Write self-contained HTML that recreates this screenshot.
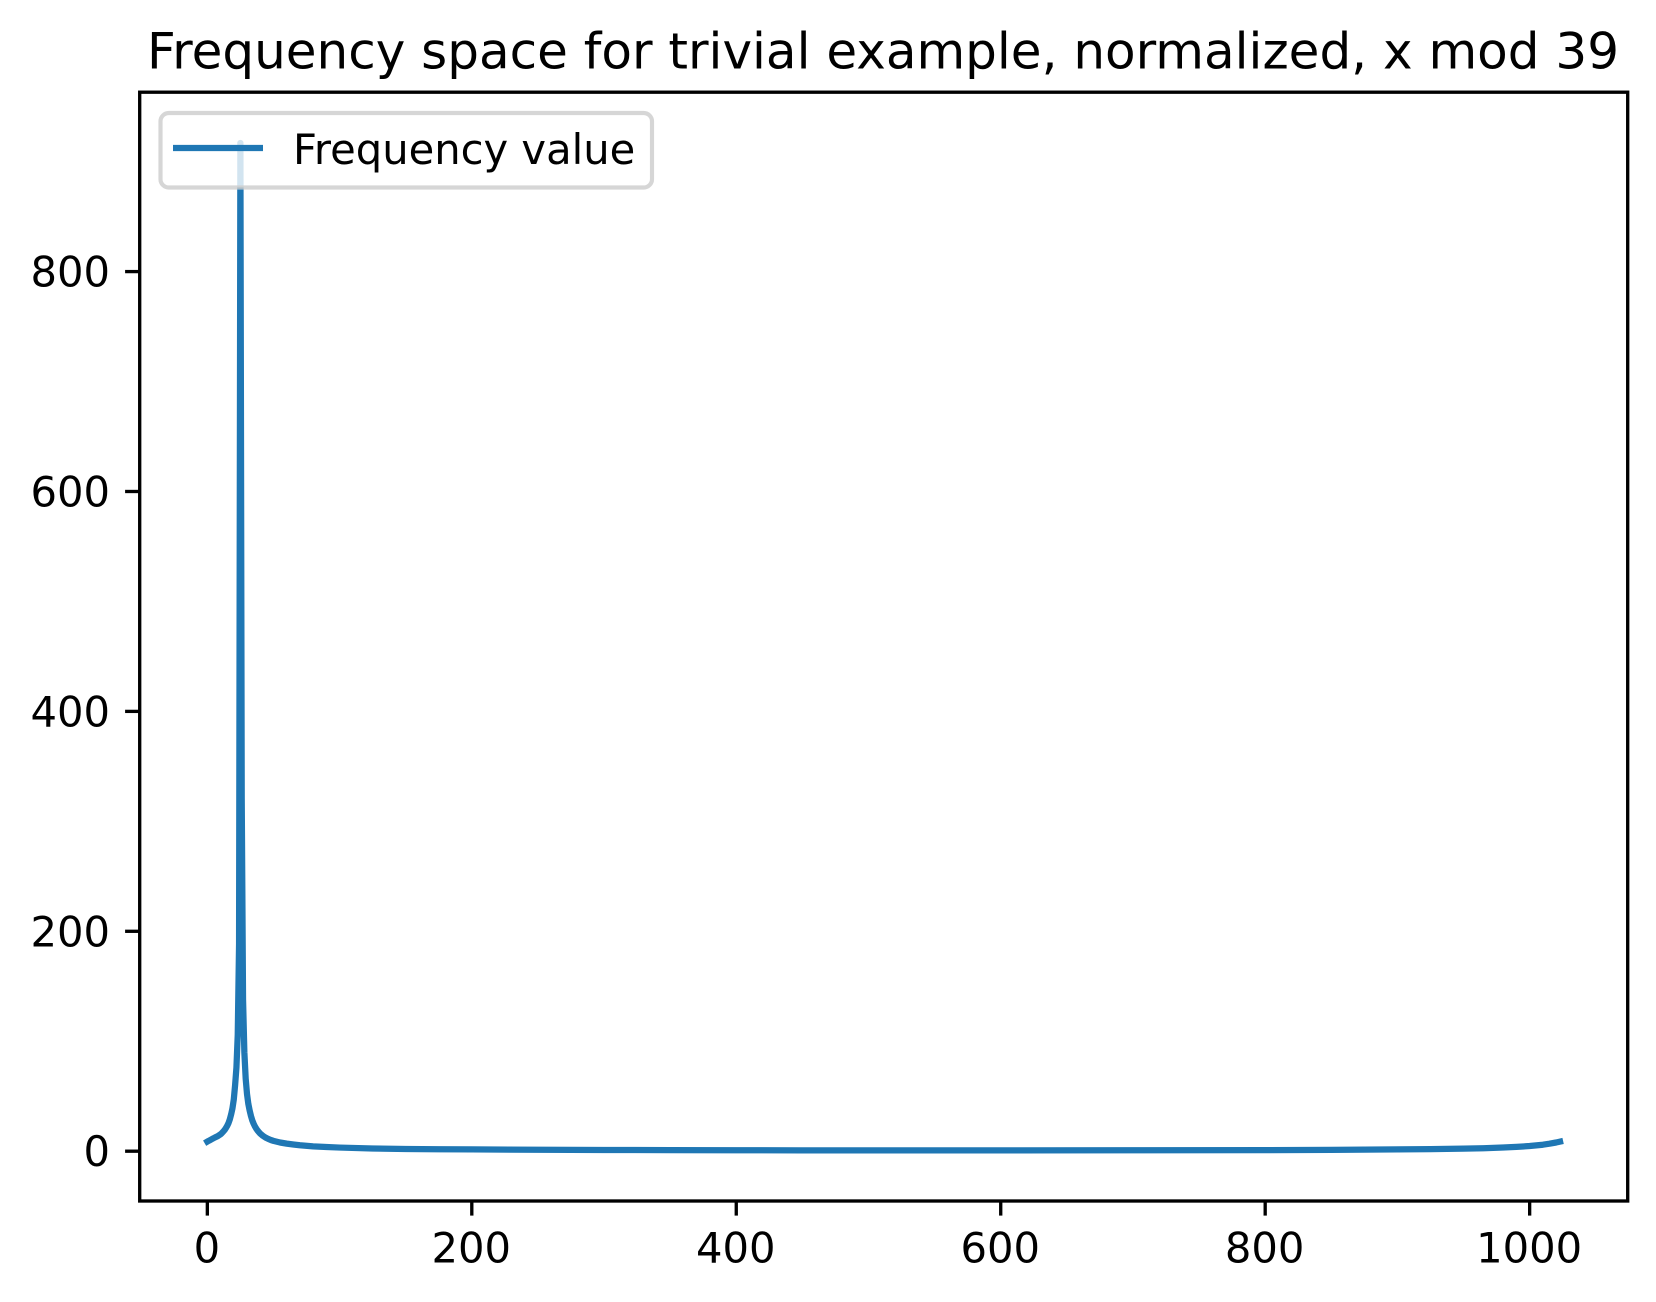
<!DOCTYPE html>
<html lang="en">
<head>
<meta charset="utf-8">
<title>Frequency space for trivial example, normalized, x mod 39</title>
<style>
  html, body { margin: 0; padding: 0; background: #fff; }
  svg { display: block; }
  text { font-family: "DejaVu Sans", "Liberation Sans", sans-serif; fill: #000; }
</style>
</head>
<body>
<svg id="chart" xmlns="http://www.w3.org/2000/svg" width="1656" height="1302" viewBox="0 0 1656 1302">
  <rect x="0" y="0" width="1656" height="1302" fill="#ffffff"/>
  <text x="883" y="68.5" text-anchor="middle" style="font-size:50px">Frequency space for trivial example, normalized, x mod 39</text>
  <g id="series-layer"></g>
  <g id="tick-layer"></g>
  <rect x="139.7" y="92.2" width="1488" height="1108.8" fill="none" stroke="#000" stroke-width="3.33"/>
  <g>
    <rect x="160.5" y="113" width="491.5" height="74.5" rx="8.3" ry="8.3" fill="#ffffff" fill-opacity="0.8" stroke="#cccccc" stroke-opacity="0.8" stroke-width="4.17"/>
    <line x1="173" y1="148" x2="263" y2="148" stroke="#1f77b4" stroke-width="6.25"/>
    <text x="293" y="164" style="font-size:41.67px">Frequency value</text>
  </g>
</svg>
<script>
const frequencyBins = [0, 1, 2, 3, 4, 5, 6, 7, 8, 9, 10, 11, 12, 13, 14, 15, 16, 17, 18, 19, 20, 21, 22, 23, 24, 25, 26, 27, 28, 29, 30, 31, 32, 33, 34, 35, 36, 37, 38, 39, 40, 42, 44, 46, 48, 50, 55, 60, 65, 70, 80, 90, 100, 125, 150, 175, 200, 250, 300, 350, 400, 450, 537, 600, 700, 800, 850, 900, 925, 950, 965, 980, 990, 1000, 1005, 1010, 1015, 1020, 1023];
const frequencyValues = [8.7, 9.4, 10, 10.7, 11.4, 12, 12.6, 13.2, 13.8, 14.6, 15.4, 16.5, 17.8, 19.2, 21, 23, 25.5, 29, 33.5, 39, 47, 60, 76, 106, 189, 917, 321, 138, 90, 66, 52, 43, 37, 32, 28, 25, 22.5, 20.5, 18.8, 17.3, 16, 14, 12.4, 11.2, 10.2, 9.4, 7.9, 6.9, 6.1, 5.4, 4.4, 3.8, 3.3, 2.5, 2.05, 1.75, 1.6, 1.3, 1.1, 0.95, 0.85, 0.75, 0.69, 0.72, 0.8, 1.0, 1.2, 1.6, 1.9, 2.3, 2.7, 3.3, 3.9, 4.7, 5.3, 5.9, 6.8, 7.9, 8.7];
const xTickValues = [0, 200, 400, 600, 800, 1000];
const yTickValues = [0, 200, 400, 600, 800];

const AXES = { left: 139.7, right: 1627.7, top: 92.2, bottom: 1201 };
const X_MIN = -51.15, X_MAX = 1074.15;
const Y_MIN = -45.3, Y_MAX = 963.15;
const SVG_NS = 'http://www.w3.org/2000/svg';

function xScale(v) {
  return AXES.left + (v - X_MIN) / (X_MAX - X_MIN) * (AXES.right - AXES.left);
}
function yScale(v) {
  return AXES.bottom - (v - Y_MIN) / (Y_MAX - Y_MIN) * (AXES.bottom - AXES.top);
}

const seriesLayer = document.getElementById('series-layer');
const tickLayer = document.getElementById('tick-layer');

const pathData = frequencyBins.map(function (bin, i) {
  return (i === 0 ? 'M' : 'L') + xScale(bin).toFixed(2) + ' ' + yScale(frequencyValues[i]).toFixed(2);
}).join(' ');
const seriesLine = document.createElementNS(SVG_NS, 'path');


seriesLine.setAttribute('d', pathData);
seriesLine.setAttribute('fill', 'none');
seriesLine.setAttribute('stroke', '#1f77b4');
seriesLine.setAttribute('stroke-width', '6.25');
seriesLine.setAttribute('stroke-linecap', 'square');
seriesLine.setAttribute('stroke-linejoin', 'round');
seriesLayer.appendChild(seriesLine);

xTickValues.forEach(function (v) {
  const x = xScale(v);
  const mark = document.createElementNS(SVG_NS, 'line');
  
  
  mark.setAttribute('x1', x);
  mark.setAttribute('x2', x);
  mark.setAttribute('y1', AXES.bottom);
  mark.setAttribute('y2', AXES.bottom + 14.6);
  mark.setAttribute('stroke', '#000');
  mark.setAttribute('stroke-width', '3.33');
  tickLayer.appendChild(mark);
  const label = document.createElementNS(SVG_NS, 'text');
  
  
  label.setAttribute('x', x - 0.5);
  label.setAttribute('y', 1262.5);
  label.setAttribute('text-anchor', 'middle');
  label.style.fontSize = '41.67px';
  label.textContent = String(v);
  tickLayer.appendChild(label);
});

yTickValues.forEach(function (v) {
  const y = yScale(v);
  const mark = document.createElementNS(SVG_NS, 'line');
  
  
  mark.setAttribute('x1', AXES.left - 14.6);
  mark.setAttribute('x2', AXES.left);
  mark.setAttribute('y1', y);
  mark.setAttribute('y2', y);
  mark.setAttribute('stroke', '#000');
  mark.setAttribute('stroke-width', '3.33');
  tickLayer.appendChild(mark);
  const label = document.createElementNS(SVG_NS, 'text');
  
  
  label.setAttribute('x', 110);
  label.setAttribute('y', y + 15);
  label.setAttribute('text-anchor', 'end');
  label.style.fontSize = '41.67px';
  label.textContent = String(v);
  tickLayer.appendChild(label);
});
</script>
</body>
</html>
